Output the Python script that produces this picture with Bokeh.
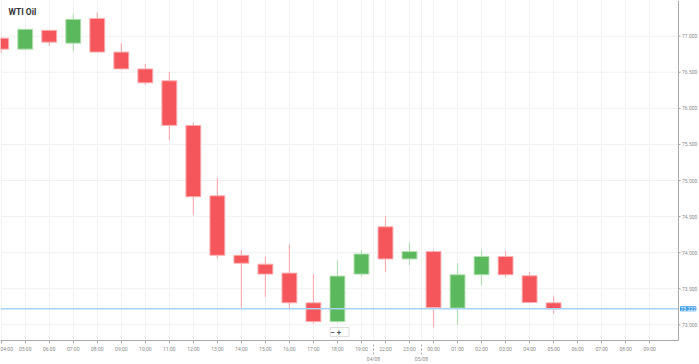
from bokeh.plotting import figure
from bokeh.models import (ColumnDataSource, Range1d, FixedTicker, LinearAxis,
                          Span, Label)
from bokeh.core.properties import value
from bokeh.embed import file_html
from bokeh.resources import INLINE

# ---- data (hourly candles, WTI Oil) ----
times = ["04:00", "05:00", "06:00", "07:00", "08:00", "09:00", "10:00", "11:00",
         "12:00", "13:00", "14:00", "15:00", "16:00", "17:00", "18:00", "19:00",
         "22:00", "23:00", "00:00", "01:00", "02:00", "03:00", "04:00", "05:00"]
future_times = ["06:00", "07:00", "08:00", "09:00"]
open_ = [76.973, 76.821, 77.082, 76.904, 77.247, 76.780, 76.547, 76.382,
         75.764, 74.788, 73.964, 73.841, 73.717, 73.305, 73.044, 73.703,
         74.359, 73.913, 74.015, 73.232, 73.694, 73.947, 73.680, 73.305]
high = [76.990, 77.100, 77.082, 77.316, 77.330, 76.904, 76.615, 76.505,
        75.805, 75.036, 74.033, 73.951, 74.115, 73.703, 73.896, 74.037,
        74.510, 74.143, 74.037, 73.854, 74.043, 74.023, 73.731, 73.397]
low = [76.766, 76.808, 76.863, 76.794, 76.780, 76.540, 76.327, 75.558,
       74.527, 73.923, 73.236, 73.387, 73.209, 73.016, 73.030, 73.676,
       73.731, 73.831, 72.962, 72.999, 73.543, 73.658, 73.300, 73.154]
close = [76.821, 77.096, 76.918, 77.234, 76.780, 76.547, 76.354, 75.764,
         74.775, 73.964, 73.854, 73.703, 73.305, 73.044, 73.676, 73.982,
         73.913, 74.015, 73.240, 73.694, 73.947, 73.694, 73.309, 73.222]
current_price = 73.222
date_breaks = [15.5, 17.5]
date_labels = ["04/08", "05/08"]
y_ticks = [73.0, 73.5, 74.0, 74.5, 75.0, 75.5, 76.0, 76.5, 77.0]

UP, DOWN = "#5cb85c", "#f5565b"
UP_W, DOWN_W = "#b3e0b3", "#f9b0b2"
AXIS_C, LABEL_C, GRID_C = "#a8a8a8", "#8a8a8a", "#f1f1f1"
FS = "5px"

idx = list(range(len(times)))
up = [c >= o for o, c in zip(open_, close)]
src = ColumnDataSource(dict(
    x=idx, top=[max(o, c) for o, c in zip(open_, close)],
    bottom=[min(o, c) for o, c in zip(open_, close)],
    high=high, low=low,
    fill=[UP if u else DOWN for u in up],
    wick=[UP_W if u else DOWN_W for u in up],
))

all_labels = times + future_times
ticks = list(range(len(all_labels)))

# visible time span of the price area, and where the price scale sits
X0, AX = -0.03, 28.2
W, H = 699, 364
PX = (AX - X0) / 678.0          # data units per pixel horizontally
X1 = X0 + W * PX
Y0, Y1 = 72.783, 77.495

p = figure(width=W, height=H, x_range=Range1d(X0, X1),
           y_range=Range1d(Y0, Y1), y_axis_location=None,
           output_backend="svg", toolbar_location=None,
           min_border_left=0, min_border_top=0, min_border_bottom=0,
           min_border_right=0, background_fill_color="white")
p.outline_line_color = None
p.title.visible = False

# grids
p.xgrid.ticker = FixedTicker(ticks=ticks + date_breaks)
p.xgrid.grid_line_color = GRID_C
p.ygrid.visible = False
ysrc = ColumnDataSource(dict(
    y=y_ticks, x0=[X0] * len(y_ticks), x1=[AX] * len(y_ticks),
    t0=[AX] * len(y_ticks), t1=[AX + 2 * PX] * len(y_ticks),
    tx=[AX + 3.5 * PX] * len(y_ticks),
    label=[f"{v:.3f}" for v in y_ticks]))
p.segment(x0="x0", x1="x1", y0="y", y1="y", source=ysrc,
          line_color=GRID_C, line_width=1)

# x axis
xa = p.xaxis[0]
xa.bounds = (X0, AX)
xa.ticker = FixedTicker(ticks=ticks)
xa.major_label_overrides = {i: t for i, t in enumerate(all_labels)}
xa.axis_line_color = AXIS_C
xa.major_tick_line_color = AXIS_C
xa.major_tick_out = 3
xa.major_tick_in = 0
xa.minor_tick_line_color = None
xa.major_label_text_font_size = FS
xa.major_label_text_color = LABEL_C
xa.major_label_text_font = "Roboto"
xa.major_label_standoff = 2
xa.axis_label_standoff = 0

xa2 = LinearAxis(ticker=FixedTicker(ticks=date_breaks, minor_ticks=[]),
                 major_label_overrides={b: l for b, l in zip(date_breaks, date_labels)})
xa2.axis_line_color = None
xa2.major_tick_line_color = "#b0b0b0"
xa2.major_tick_line_dash = "2 2"
xa2.major_tick_in = 11
xa2.major_tick_out = 0
xa2.minor_tick_line_color = None
xa2.major_label_text_font_size = FS
xa2.major_label_text_color = LABEL_C
xa2.major_label_text_font = "Roboto"
xa2.major_label_standoff = 1
xa2.axis_label_standoff = 0
p.add_layout(xa2, "below")

# price scale on the right
p.add_layout(Span(location=AX, dimension="height", line_color=AXIS_C, line_width=1))
p.segment(x0="t0", x1="t1", y0="y", y1="y", source=ysrc,
          line_color=AXIS_C, line_width=1)
p.text(x="tx", y="y", text="label", source=ysrc, text_font=value("Roboto"),
       text_font_size=FS, text_color=LABEL_C, text_baseline="middle",
       text_align="left")

# candles
p.segment(x0="x", x1="x", y0="low", y1="high", source=src,
          line_color="wick", line_width=1.2)
p.vbar(x="x", width=0.62, top="top", bottom="bottom", source=src,
       fill_color="fill", line_color="wick", line_width=1)

# current price line and tag
p.segment(x0=[X0], x1=[AX], y0=[current_price], y1=[current_price],
          line_color="#a6d3f5", line_width=1.5)
p.add_layout(Label(x=AX, x_offset=2, y=current_price,
                   text=f"{current_price:.3f}",
                   text_font_size=FS, text_color="white", text_font="Roboto",
                   text_baseline="middle", text_align="left",
                   background_fill_color="#3b9cec", border_line_color="#3b9cec"))

# title
p.add_layout(Label(x=8, x_units="screen", y=Y1, y_offset=-6, text="WTI Oil",
                   text_font="Roboto", text_font_style="bold",
                   text_baseline="top",
                   text_font_size="8.5px", text_color="#333333"))

# zoom control
p.add_layout(Label(x=14.09, y=72.90, text=" \u2212   + ", text_font="Roboto",
                   text_font_style="bold", text_font_size="8px",
                   text_color="#555555", text_align="center",
                   text_baseline="middle", background_fill_color="white",
                   border_line_color="#dddddd"))

open("out.html", "w").write(file_html(p, INLINE))
